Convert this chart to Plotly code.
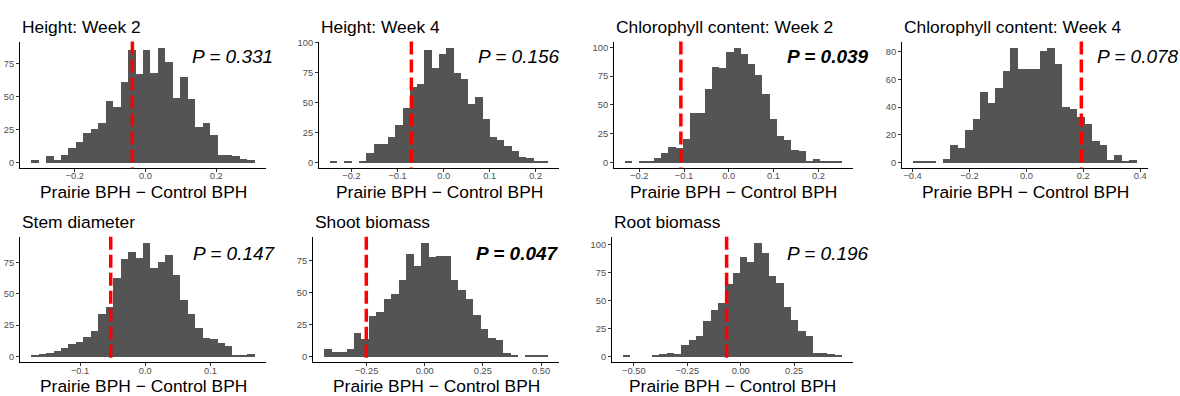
import plotly.graph_objects as go

# ---------------- data ----------------
titles = ["Height: Week 2", "Height: Week 4", "Chlorophyll content: Week 2",
          "Chlorophyll content: Week 4", "Stem diameter", "Shoot biomass", "Root biomass"]
p_values = ["0.331", "0.156", "0.039", "0.078", "0.147", "0.047", "0.196"]
p_significant = [False, False, True, False, False, True, False]
observed_diff = [-0.037, -0.070, -0.107, 0.193, -0.053, -0.251, -0.066]
bin_low = [-0.323, -0.247, -0.232, -0.398, -0.175, -0.432, -0.551]
bin_high = [0.309, 0.227, 0.253, 0.388, 0.168, 0.529, 0.474]

counts_height_w2 = [2, 0, 5, 2, 6, 11, 16, 23, 26, 30, 47, 42, 61, 85, 67, 85, 68, 87, 76, 49,
                    65, 48, 27, 30, 21, 6, 6, 5, 3, 2]
counts_height_w4 = [1, 0, 1, 0, 1, 8, 16, 16, 22, 32, 46, 63, 66, 94, 79, 91, 96, 75, 70, 49,
                    55, 37, 22, 19, 14, 10, 5, 4, 2, 1]
counts_chl_w2 = [1, 0, 1, 1, 4, 9, 14, 13, 21, 43, 43, 64, 83, 82, 96, 100, 95, 86, 76, 60,
                 38, 23, 20, 11, 10, 2, 3, 1, 1, 1]
counts_chl_w4 = [1, 1, 1, 0, 3, 13, 11, 24, 32, 51, 43, 54, 66, 83, 68, 68, 68, 81, 83, 71,
                 40, 39, 33, 28, 16, 13, 2, 6, 1, 2]
counts_stem = [1, 2, 3, 5, 7, 10, 12, 16, 21, 34, 40, 63, 78, 84, 79, 91, 71, 76, 81, 65,
               45, 34, 23, 15, 14, 11, 9, 1, 1, 2]
counts_shoot = [6, 4, 4, 6, 19, 14, 32, 35, 45, 49, 60, 80, 71, 89, 78, 79, 79, 60, 52, 45,
                33, 22, 15, 13, 3, 1, 0, 1, 1, 1]
counts_root = [1, 0, 0, 0, 1, 3, 4, 3, 11, 15, 19, 32, 42, 48, 65, 75, 89, 85, 102, 93,
               72, 66, 45, 33, 23, 19, 4, 4, 3, 1]
all_counts = [counts_height_w2, counts_height_w4, counts_chl_w2, counts_chl_w4,
              counts_stem, counts_shoot, counts_root]

x_tickvals = [[-0.2, 0.0, 0.2], [-0.2, -0.1, 0.0, 0.1, 0.2], [-0.2, -0.1, 0.0, 0.1, 0.2],
              [-0.4, -0.2, 0.0, 0.2, 0.4], [-0.1, 0.0, 0.1], [-0.25, 0.0, 0.25, 0.5],
              [-0.5, -0.25, 0.0, 0.25]]
x_ticktext = [["\u22120.2", "0.0", "0.2"],
              ["\u22120.2", "\u22120.1", "0.0", "0.1", "0.2"],
              ["\u22120.2", "\u22120.1", "0.0", "0.1", "0.2"],
              ["\u22120.4", "\u22120.2", "0.0", "0.2", "0.4"],
              ["\u22120.1", "0.0", "0.1"],
              ["\u22120.25", "0.00", "0.25", "0.50"],
              ["\u22120.50", "\u22120.25", "0.00", "0.25"]]
y_tickvals = [[0, 25, 50, 75], [0, 25, 50, 75, 100], [0, 25, 50, 75, 100],
              [0, 20, 40, 60, 80], [0, 25, 50, 75], [0, 25, 50, 75], [0, 25, 50, 75, 100]]
x_label = "Prairie BPH \u2212 Control BPH"

# ---------------- layout (pixels) ----------------
W, H = 1180, 396
x_px = [(20, 266), (319, 559), (614, 853), (902, 1148), (20, 266), (313, 559), (612, 853)]
row_of = [0, 0, 0, 0, 1, 1, 1]
y_px = [(38, 166), (235, 362)]
p_pos = [(232.5, 53.5), (518.5, 53.5), (828, 53.5), (1137.5, 53.5),
         (234.5, 252.5), (517, 252.5), (827.5, 252.5)]
title_y = [23.5, 220]
xlab_y = [190, 385.5]

FONT = "Liberation Sans, Arial, sans-serif"
BAR = "#545454"


def px_x(v):
    return v / W


def px_y(v):
    return 1 - v / H


fig = go.Figure()
layout = dict(width=W, height=H, margin=dict(l=0, r=0, t=0, b=0), autosize=False,
              paper_bgcolor="white", plot_bgcolor="white", showlegend=False,
              bargap=0, font=dict(family=FONT), shapes=[], annotations=[])

for i in range(7):
    sfx = "" if i == 0 else str(i + 1)
    counts = all_counts[i]
    n = len(counts)
    bw = (bin_high[i] - bin_low[i]) / n
    centers = [bin_low[i] + (k + 0.5) * bw for k in range(n)]
    fig.add_trace(go.Bar(x=centers, y=counts, width=bw, xaxis="x" + sfx, yaxis="y" + sfx,
                         marker=dict(color=BAR, line=dict(width=0)), hoverinfo="skip"))
    span = bin_high[i] - bin_low[i]
    xr = [bin_low[i] - 0.05 * span, bin_high[i] + 0.05 * span]
    ymax = max(counts)
    yr = [-0.05 * ymax, 1.05 * ymax]
    x0, x1 = x_px[i]
    ytop, ybot = y_px[row_of[i]]
    common = dict(showline=True, linecolor="black", linewidth=1, ticks="outside", ticklen=3,
                  tickcolor="#333333", tickwidth=1, showgrid=False, zeroline=False,
                  tickfont=dict(size=9.3, color="#4D4D4D", family=FONT), fixedrange=True)
    layout["xaxis" + sfx] = dict(domain=[px_x(x0), px_x(x1)], range=xr, anchor="y" + sfx,
                                 tickmode="array", tickvals=x_tickvals[i],
                                 ticktext=x_ticktext[i], ticklabelstandoff=-4, **common)
    layout["yaxis" + sfx] = dict(domain=[px_y(ybot), px_y(ytop)], range=yr, anchor="x" + sfx,
                                 tickmode="array", tickvals=y_tickvals[i],
                                 ticktext=[str(v) for v in y_tickvals[i]], **common)
    layout["shapes"].append(dict(type="line", xref="x" + sfx, yref="y" + sfx + " domain",
                                 x0=observed_diff[i], x1=observed_diff[i], y0=1, y1=0,
                                 line=dict(color="#FF0000", width=3.5, dash="13px,5px")))
    # panel title
    layout["annotations"].append(dict(text=titles[i], xref="paper", yref="paper",
                                      x=px_x(x0), y=px_y(title_y[row_of[i]]),
                                      xanchor="left", yanchor="middle", showarrow=False,
                                      font=dict(size=17.4, color="black", family=FONT)))
    # P value
    ptxt = "<i>P = " + p_values[i] + "</i>"
    if p_significant[i]:
        ptxt = "<b>" + ptxt + "</b>"
    px_, py_ = p_pos[i]
    layout["annotations"].append(dict(text=ptxt, xref="paper", yref="paper",
                                      x=px_x(px_), y=px_y(py_), xanchor="center",
                                      yanchor="middle", showarrow=False,
                                      font=dict(size=19, color="black", family=FONT)))
    # x axis title
    layout["annotations"].append(dict(text=x_label, xref="paper", yref="paper",
                                      x=px_x((x0 + x1) / 2), y=px_y(xlab_y[row_of[i]]),
                                      xanchor="center", yanchor="middle", showarrow=False,
                                      borderpad=0,
                                      font=dict(size=17.4, color="black", family=FONT)))

fig.update_layout(**layout)
fig.write_html("out.html")
